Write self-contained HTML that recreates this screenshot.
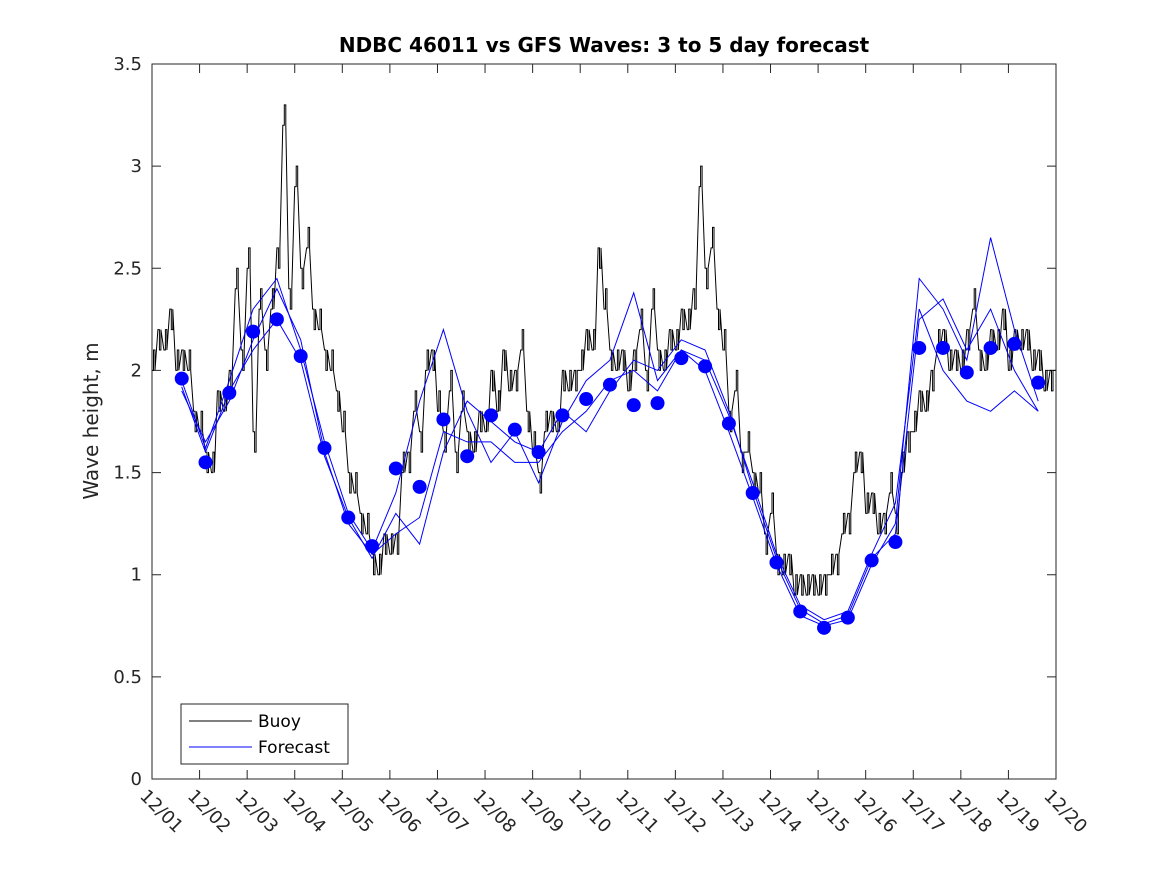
<!DOCTYPE html>
<html><head><meta charset="utf-8"><style>
body{margin:0;background:#fff;}
svg text{font-family:"DejaVu Sans","Liberation Sans",sans-serif;fill:#262626;}
</style></head><body>
<svg id="chart" width="1167" height="875" xmlns="http://www.w3.org/2000/svg">
<rect width="1167" height="875" fill="#fff"/>
<text x="604" y="52" text-anchor="middle" font-size="20" font-weight="bold" style="fill:#000">NDBC 46011 vs GFS Waves: 3 to 5 day forecast</text>
<text transform="translate(98,421) rotate(-90)" text-anchor="middle" font-size="20">Wave height, m</text>
<g id="plot"></g>
<rect x="152" y="64" width="904" height="715" fill="none" stroke="#262626" stroke-width="1"/>
<g>
<rect x="181" y="704" width="167" height="60" fill="#fff" stroke="#262626"/>
<line x1="189" y1="721" x2="252" y2="721" stroke="#000"/>
<text x="258" y="727" font-size="17" style="fill:#000">Buoy</text>
<line x1="189" y1="747" x2="252" y2="747" stroke="#0000ff"/>
<text x="258" y="753" font-size="17" style="fill:#000">Forecast</text>
</g>
</svg>
<script>
const xTickLabels=["12/01","12/02","12/03","12/04","12/05","12/06","12/07","12/08","12/09","12/10","12/11","12/12","12/13","12/14","12/15","12/16","12/17","12/18","12/19","12/20"];
const yTicks=[0,0.5,1,1.5,2,2.5,3,3.5];
const buoy=[2.0,2.2,2.1,2.3,2.0,2.1,2.0,1.8,
1.7,1.6,1.5,1.9,1.8,2.0,2.4,2.1,
2.5,1.7,2.3,2.1,2.3,2.6,3.2,2.4,
2.9,2.5,2.6,2.3,2.2,2.1,2.0,1.9,
1.7,1.5,1.4,1.3,1.2,1.1,1.0,1.2,
1.1,1.2,1.5,1.6,1.8,1.7,2.0,2.1,
1.8,1.7,1.9,1.6,1.8,1.7,1.6,1.8,
1.7,2.0,1.8,2.1,1.9,2.0,2.1,1.8,
1.6,1.5,1.7,1.8,1.7,2.0,1.9,2.0,
2.0,2.2,2.1,2.6,2.3,2.1,2.0,2.1,
1.9,2.1,2.2,2.0,2.3,2.1,2.0,2.2,
2.1,2.3,2.2,2.4,2.9,2.5,2.6,2.3,
2.1,1.8,1.9,1.6,1.6,1.5,1.4,1.2,
1.3,1.1,1.0,1.1,0.9,1.0,0.9,1.0,
0.9,1.0,1.0,1.1,1.2,1.3,1.5,1.6,
1.3,1.4,1.2,1.3,1.4,1.3,1.5,1.7,
1.7,1.9,1.8,2.0,2.1,2.2,2.0,2.1,
2.0,2.2,2.3,2.1,2.0,2.2,2.1,2.3,
2.0,2.2,2.1,2.2,2.0,2.1,1.9,2.0,2.0];
const dots=[1.96,1.55,1.89,2.19,2.25,2.07,1.62,1.28,1.14,1.52,1.43,1.76,1.58,1.78,1.71,1.60,1.78,1.86,1.93,1.83,1.84,2.06,2.02,1.74,1.40,1.06,0.82,0.74,0.79,1.07,1.16,2.11,2.11,1.99,2.11,2.13,1.94];
const fcA=[1.95,1.62,1.95,2.30,2.45,2.10,1.65,1.30,1.12,1.40,1.85,2.20,1.80,1.55,1.70,1.45,1.75,1.95,2.05,2.38,1.95,2.10,2.00,1.70,1.38,1.05,0.80,0.75,0.78,1.05,1.25,2.45,2.30,2.05,2.65,2.20,1.85];
const fcB=[1.90,1.65,1.85,2.15,2.40,2.15,1.60,1.25,1.10,1.20,1.28,1.70,1.65,1.65,1.55,1.55,1.70,1.80,1.95,2.00,1.90,2.10,2.05,1.78,1.45,1.10,0.85,0.78,0.82,1.10,1.35,2.30,2.00,1.85,1.80,1.90,1.80];
const fcC=[1.92,1.60,1.90,2.10,2.25,2.05,1.58,1.28,1.08,1.30,1.15,1.60,1.85,1.75,1.65,1.60,1.80,1.70,1.90,2.05,2.00,2.15,2.10,1.80,1.42,1.08,0.83,0.76,0.80,1.08,1.20,2.25,2.35,2.10,2.30,2.00,1.80];
const X0=152,X1=1056,Y0=779,Y1=64;
const xs=d=>X0+d*(X1-X0)/19;
const ys=v=>Y0-v*(Y0-Y1)/3.5;
const NS="http://www.w3.org/2000/svg";
const g=document.getElementById('plot');
function mk(t,a){const e=document.createElementNS(NS,t);for(const k in a)e.setAttribute(k,a[k]);g.appendChild(e);return e;}
yTicks.forEach(v=>{
 const y=ys(v);
 const l=mk('path',{d:`M${X0} ${y}h9M${X1} ${y}h-9`,stroke:'#262626'});
 
 
 const t=mk('text',{x:X0-10,y:y+6,'text-anchor':'end','font-size':18});
 t.textContent=String(v);
 
 
});
xTickLabels.forEach((s,i)=>{
 const x=xs(i);
 const l=mk('path',{d:`M${x} ${Y0}v-9M${x} ${Y1}v9`,stroke:'#262626'});
 
 
 const t=mk('text',{transform:`translate(${x-13},${Y0+18}) rotate(45)`,'font-size':18});
 t.textContent=s;
 
 
});
let bd='';
buoy.forEach((v,i)=>{
 const x=xs(i*0.125),y=ys(v);
 if(i===0){bd+=`M${x.toFixed(1)} ${y.toFixed(1)}`;}
 else{
  const xm=xs((i-0.5)*0.125), yp=ys(buoy[i-1]), alt=ys(buoy[i-1]+((i%2)?0.1:-0.1));
  bd+=`L${(xm-1.5).toFixed(1)} ${yp.toFixed(1)}L${(xm-1.5).toFixed(1)} ${alt.toFixed(1)}L${xm.toFixed(1)} ${alt.toFixed(1)}L${xm.toFixed(1)} ${yp.toFixed(1)}L${x.toFixed(1)} ${y.toFixed(1)}`;
 }
});
const bl=mk('path',{d:bd,fill:'none',stroke:'#000','stroke-width':1});


[fcA,fcB,fcC].forEach(s=>{
 const p=s.map((v,i)=>`${xs(0.625+0.5*i).toFixed(1)},${ys(v).toFixed(1)}`).join(' ');
 const l=mk('polyline',{points:p,fill:'none',stroke:'#0000ff','stroke-width':1});
 
 
});
dots.forEach((v,i)=>{
 const c=mk('circle',{cx:xs(0.625+0.5*i),cy:ys(v),r:7,fill:'#0000ff'});
 
 
});
</script>
</body></html>
